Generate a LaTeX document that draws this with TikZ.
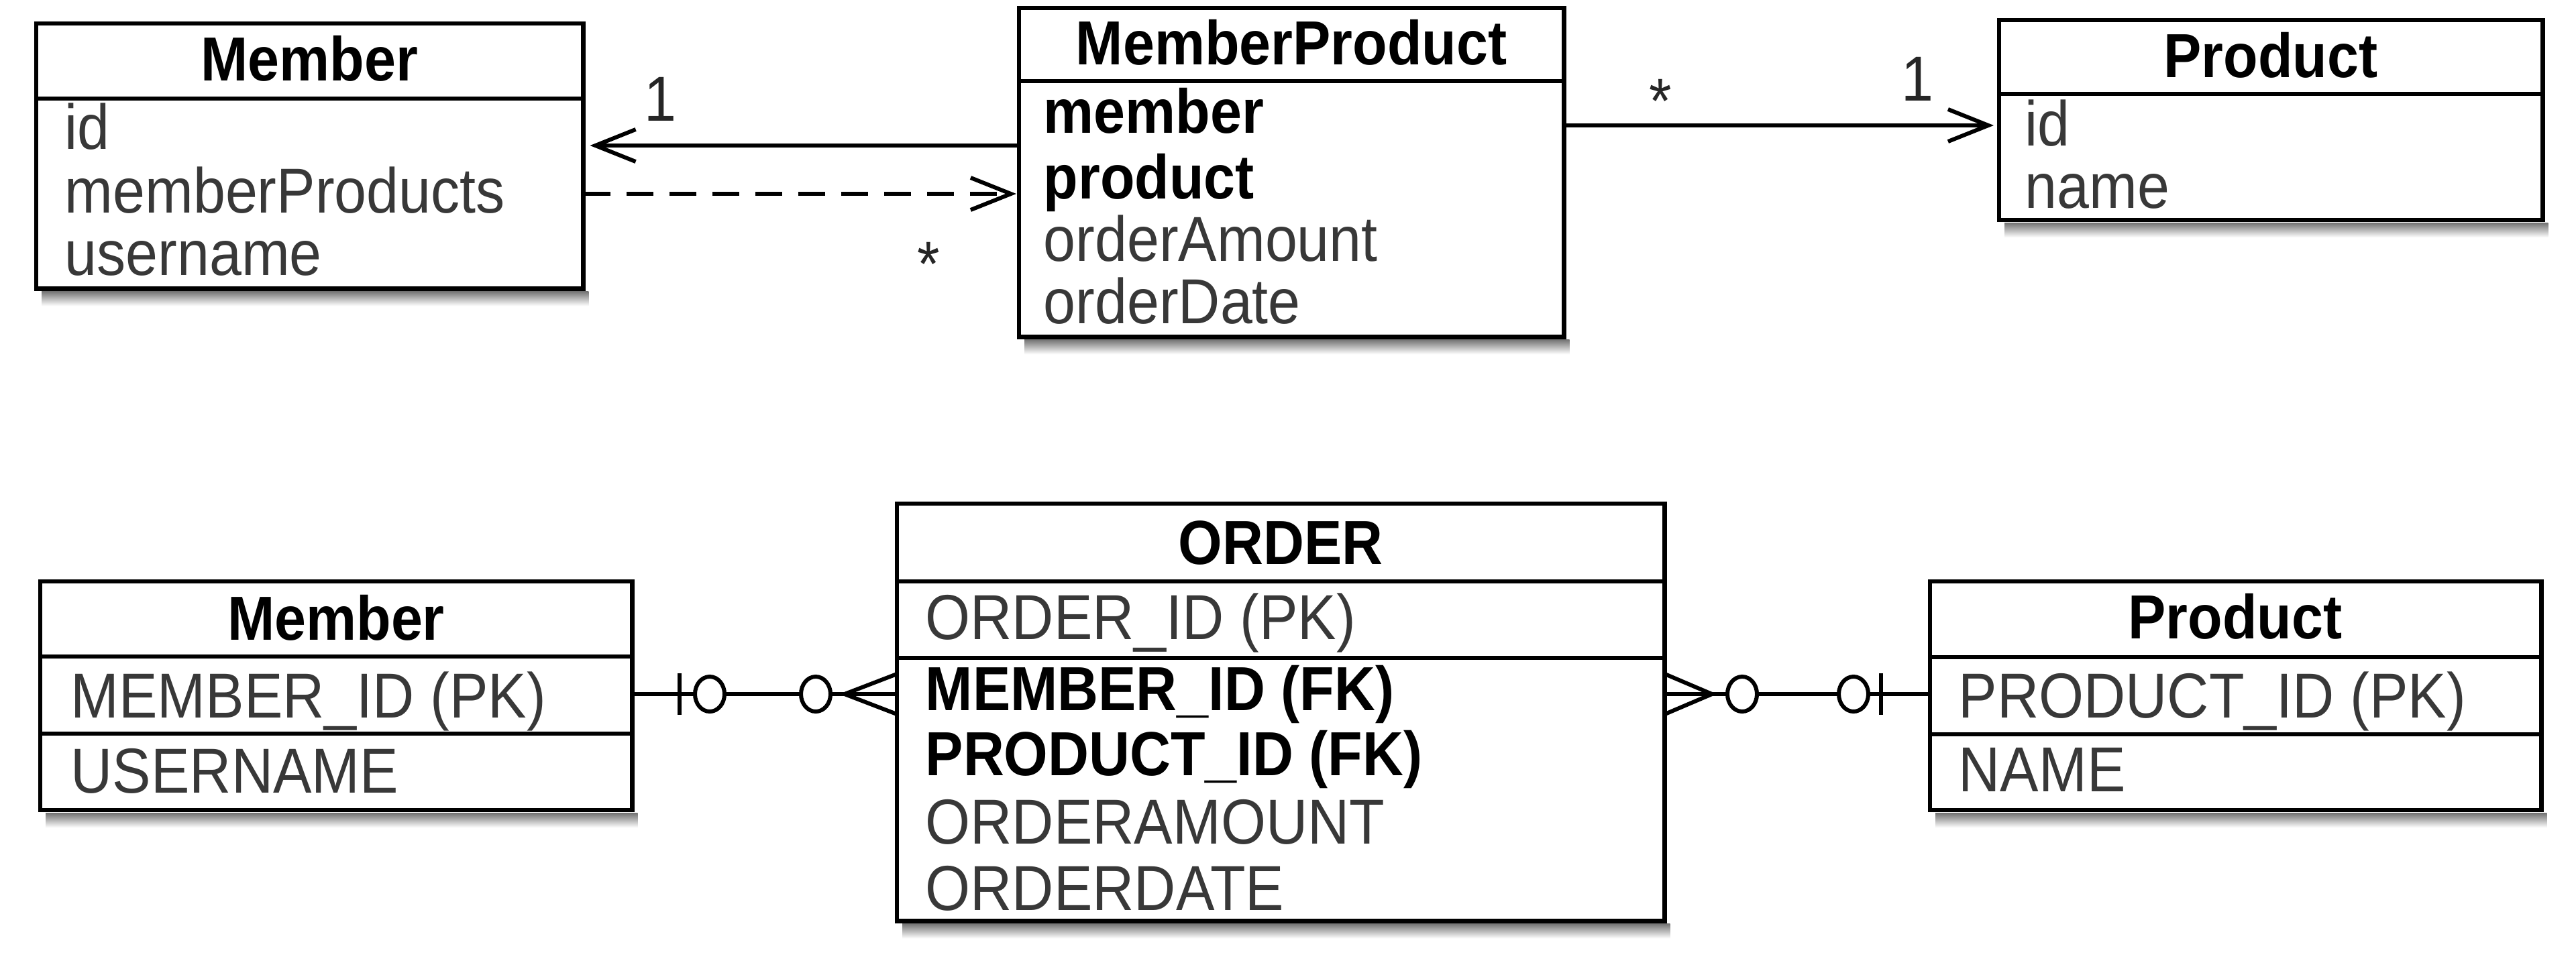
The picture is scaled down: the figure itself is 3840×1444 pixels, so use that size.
\documentclass[tikz,border=0pt]{standalone}
\usepackage{fontspec}
\setmainfont{Liberation Sans}
\usepackage{graphicx}
\usetikzlibrary{arrows.meta,calc}
\newcommand{\tallt}[1]{\scalebox{1}[1.1]{#1}}
\tikzset{
  cls/.style={draw=black, line width=0.065cm, fill=white, inner sep=0pt, outer sep=0pt, anchor=north west},
  ttl/.style={anchor=base, inner sep=0pt, font=\fontsize{24}{28}\selectfont\bfseries, text=black},
  att/.style={anchor=base west, inner sep=0pt, font=\fontsize{24.5}{29}\selectfont, text=black!78},
  attb/.style={anchor=base west, inner sep=0pt, font=\fontsize{24}{29}\selectfont\bfseries, text=black},
  lbl/.style={anchor=base, inner sep=0pt, font=\fontsize{24.5}{29}\selectfont, text=black!85},
  div/.style={line width=0.065cm},
  conn/.style={line width=0.06cm},
  uarr/.style={conn, -{Straight Barb[length=0.6cm, width=0.48cm, line width=0.06cm]}},
  dsh/.style={dash pattern=on 0.4cm off 0.24cm},
  shadowband/.style={top color=black!55, bottom color=white, draw=none},
  erdot/.style={conn, fill=white}
}
\begin{document}
\begin{tikzpicture}[x=0.01cm, y=-0.01cm]
\fill[white] (0,0) rectangle (3840,1444);
\useasboundingbox (0,0) rectangle (3840,1444);

% ---------- top: object model ----------
\node[cls, minimum width=8.15cm, minimum height=3.95cm] (m1) at (54,35) {};
\draw[div] (m1.west |- 0,147) -- (m1.east |- 0,147);
\node[ttl] (m1t) at (461.5,120) {\tallt{Member}};
\node[att] (m1a) at (96,222) {\tallt{id}};
\node[att] (m1b) at (96,317) {\tallt{memberProducts}};
\node[att] (m1c) at (96,410) {\tallt{username}};

\node[cls, minimum width=8.12cm, minimum height=4.90cm] (mp) at (1519,12) {};
\draw[div] (mp.west |- 0,121) -- (mp.east |- 0,121);
\node[ttl] (mpt) at (1925,96) {\tallt{MemberProduct}};
\node[attb] (mpa) at (1555,198) {\tallt{member}};
\node[attb] (mpb) at (1555,296) {\tallt{product}};
\node[att] (mpc) at (1555,389) {\tallt{orderAmount}};
\node[att] (mpd) at (1555,482) {\tallt{orderDate}};

\node[cls, minimum width=8.10cm, minimum height=2.98cm] (p1) at (2980,30) {};
\draw[div] (p1.west |- 0,140) -- (p1.east |- 0,140);
\node[ttl] (p1t) at (3385,115) {\tallt{Product}};
\node[att] (p1a) at (3018,217) {\tallt{id}};
\node[att] (p1b) at (3018,310) {\tallt{name}};

% connectors top
\draw[uarr] (mp.west |- 0,217) -- ($(m1.east |- 0,217)+(10,0)$);
\draw[uarr, dsh] (m1.east |- 0,289) -- ($(mp.west |- 0,289)+(-4,0)$);
\draw[uarr] (mp.east |- 0,187) -- ($(p1.west |- 0,187)+(-8,0)$);
\node[lbl] (l1) at (984,180) {\tallt{1}};
\node[lbl] (l2) at (1384,426) {\tallt{*}};
\node[lbl] (l3) at (2475,183) {\tallt{*}};
\node[lbl] (l4) at (2858,150) {\tallt{1}};

% ---------- bottom: tables ----------
\node[cls, minimum width=8.82cm, minimum height=3.41cm] (m2) at (60,867) {};
\draw[div] (m2.west |- 0,979) -- (m2.east |- 0,979);
\draw[div] (m2.west |- 0,1094) -- (m2.east |- 0,1094);
\node[ttl] (m2t) at (501,954) {\tallt{Member}};
\node[att] (m2a) at (105,1070) {\tallt{MEMBER\_ID (PK)}};
\node[att] (m2b) at (105,1182) {\tallt{USERNAME}};

\node[cls, minimum width=11.44cm, minimum height=6.22cm] (o) at (1337,751) {};
\draw[div] (o.west |- 0,867) -- (o.east |- 0,867);
\draw[div] (o.west |- 0,981) -- (o.east |- 0,981);
\node[ttl] (ot) at (1909,841) {\tallt{ORDER}};
\node[att] (oa) at (1379,953) {\tallt{ORDER\_ID (PK)}};
\node[attb] (ob) at (1379,1059) {\tallt{MEMBER\_ID (FK)}};
\node[attb] (oc) at (1379,1156) {\tallt{PRODUCT\_ID (FK)}};
\node[att] (od) at (1379,1258) {\tallt{ORDERAMOUNT}};
\node[att] (oe) at (1379,1357) {\tallt{ORDERDATE}};

\node[cls, minimum width=9.11cm, minimum height=3.41cm] (p2) at (2877,867) {};
\draw[div] (p2.west |- 0,980) -- (p2.east |- 0,980);
\draw[div] (p2.west |- 0,1095) -- (p2.east |- 0,1095);
\node[ttl] (p2t) at (3332,952) {\tallt{Product}};
\node[att] (p2a) at (2919,1070) {\tallt{PRODUCT\_ID (PK)}};
\node[att] (p2b) at (2919,1180) {\tallt{NAME}};

% shadows
\foreach \b in {m1,mp,p1,m2,o,p2}{
  \shade[shadowband] ($(\b.south west)+(8,4)$) rectangle ($(\b.south east)+(8,26)$);
}

% ER connector left: Member |o ---- o< ORDER
\draw[conn] (m2.east |- 0,1035) -- (o.west |- 0,1035);
\draw[conn] (1013,1004) -- (1013,1066);
\draw[conn] (o.west |- 0,1005) -- (1259,1035) -- (o.west |- 0,1065);
\draw[erdot] (1058,1035) ellipse [x radius=0.22cm, y radius=0.26cm];
\draw[erdot] (1216,1035) ellipse [x radius=0.22cm, y radius=0.26cm];

% ER connector right: ORDER >o ---- o| Product
\draw[conn] (o.east |- 0,1035) -- (p2.west |- 0,1035);
\draw[conn] (2804,1004) -- (2804,1066);
\draw[conn] (o.east |- 0,1005) -- (2552,1035) -- (o.east |- 0,1065);
\draw[erdot] (2597,1035) ellipse [x radius=0.22cm, y radius=0.26cm];
\draw[erdot] (2763,1035) ellipse [x radius=0.22cm, y radius=0.26cm];
\end{tikzpicture}
\end{document}
